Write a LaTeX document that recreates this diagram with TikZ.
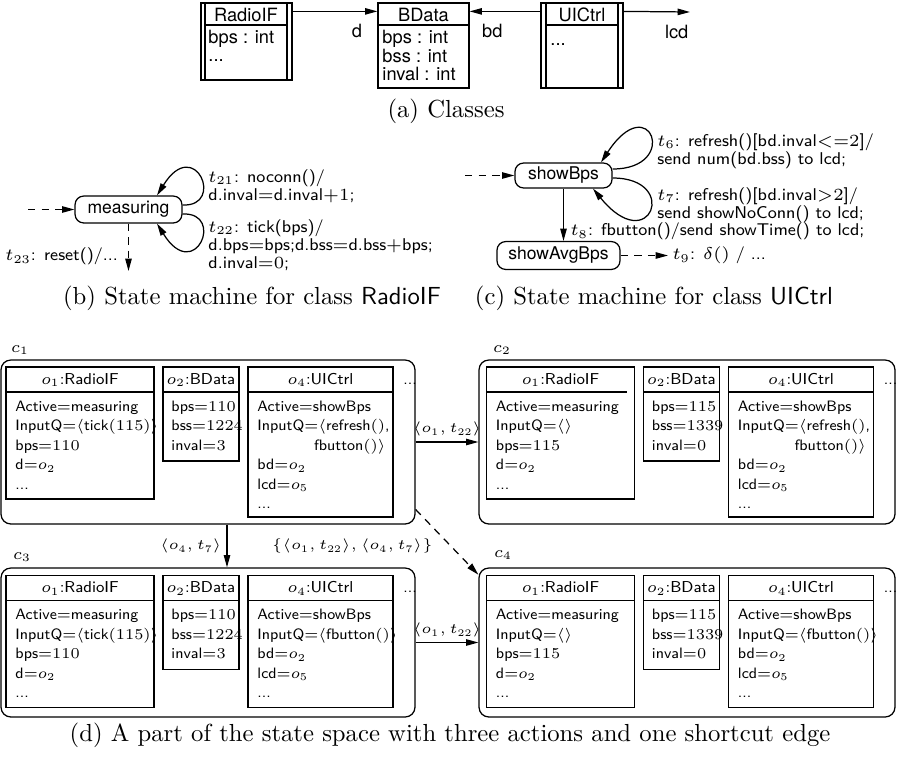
\RequirePackage{fix-cm}
\documentclass[tikz,border=0pt]{standalone}
\usepackage{fontspec}
\newfontfamily\helv{TeX Gyre Heros}
\usetikzlibrary{arrows.meta,fit,calc}

% object boxes inside a configuration (local coordinates, shifted per configuration)
\newcommand\oRadio[4]{% name, queue contents, bps value, end of title rule
  \node[box, fit={(6,367)(154,499)}] (#1) {};
  \draw[thinline] (6,392) -- (#4,392);
  \node[otitle] at (80,384) {$o_1$:RadioIF};
  \node[otxt] at (15,411) {Active$=$measuring};
  \node[otxt] at (15,430.5) {InputQ$=${$\langle${#2}$\rangle$}};
  \node[otxt] at (15,450) {bps$=${$#3$}};
  \node[otxt] at (15,469.5) {d$=${$o_2$}};
  \node[otxt] at (15,489) {...};}
\newcommand\oBData[4]{% name, bps, bss, inval
  \node[box, fit={(163,367)(239,461)}] (#1) {};
  \draw[thinline] (163,392) -- (239,392);
  \node[otitle] at (201,384) {$o_2$:BData};
  \node[otxt] at (171,411) {bps$=${$#2$}};
  \node[otxt] at (171,430.5) {bss$=${$#3$}};
  \node[otxt] at (171,450) {inval$=${$#4$}};}
\newcommand\oUILong[1]{%
  \node[box, fit={(248,367)(393,517)}] (#1) {};
  \draw[thinline] (248,392) -- (393,392);
  \node[otitle] at (320.5,384) {$o_4$:UICtrl};
  \node[otxt] at (257,411) {Active$=$showBps};
  \node[otxt] at (257,430.5) {InputQ$=${$\langle$}refresh$()$,};
  \node[otxt, anchor=base east] at (386,450) {fbutton$()\rangle$};
  \node[otxt] at (257,469.5) {bd$=${$o_2$}};
  \node[otxt] at (257,489) {lcd$=${$o_5$}};
  \node[otxt] at (257,508.5) {...};
  \node[otxt] at (403,384) {...};}
\newcommand\oUIShort[1]{%
  \node[box, fit={(248,367)(393,499)}] (#1) {};
  \draw[thinline] (248,392) -- (393,392);
  \node[otitle] at (320.5,384) {$o_4$:UICtrl};
  \node[otxt] at (257,411) {Active$=$showBps};
  \node[otxt] at (257,430.5) {InputQ$=${$\langle$}fbutton$()\rangle$};
  \node[otxt] at (257,450) {bd$=${$o_2$}};
  \node[otxt] at (257,469.5) {lcd$=${$o_5$}};
  \node[otxt] at (257,489) {...};
  \node[otxt] at (403,384) {...};}

\begin{document}
\begin{tikzpicture}[x=0.405pt, y=-0.405pt,
  thinline/.style={line width=0.5pt},
  box/.style={draw, line width=0.5pt, inner sep=0pt},
  cfg/.style={draw, line width=0.5pt, rounded corners=4pt, inner sep=0pt},
  state/.style={draw, line width=0.5pt, rounded corners=3.5pt, inner sep=0pt,
    font=\helv\fontsize{7.1}{8.5}\selectfont},
  clstxt/.style={font=\helv\fontsize{7.4}{8.8}\selectfont, inner sep=0pt},
  trtxt/.style={font=\sffamily\fontsize{6.9}{7}\selectfont, inner sep=0pt, anchor=base west},
  otxt/.style={font=\sffamily\fontsize{6.1}{7.3}\selectfont, inner sep=0pt, anchor=base west},
  otitle/.style={font=\sffamily\fontsize{6.4}{7.6}\selectfont, inner sep=0pt, anchor=base},
  elab/.style={font=\fontsize{5.8}{6.8}\selectfont, inner sep=1pt},
  clab/.style={font=\fontsize{6.5}{8}\selectfont, inner sep=0pt},
  captxt/.style={font=\fontsize{10}{12}\selectfont, inner sep=0pt, anchor=base},
  arr/.style={-{Triangle[length=5pt,width=2.6pt]}, line width=0.5pt},
  darr/.style={arr, dash pattern=on 3pt off 2.5pt}]
\useasboundingbox (0,0) rectangle (900,757);

% ---------- (a) classes ----------
\node[box, fit={(201,3)(292,80)}] (RadioIF) {};
\draw[thinline] (205,3) -- (205,80) (287,3) -- (287,80) (205,25) -- (287,25);
\node[clstxt, anchor=base] at (246,21) {RadioIF};
\node[clstxt, anchor=base west] at (208,43.5) {bps : int};
\node[clstxt, anchor=base west] at (208,61) {...};

\node[box, fit={(378,3)(469,88)}] (BData) {};
\draw[thinline] (378,25) -- (469,25);
\node[clstxt, anchor=base] at (423.5,21) {BData};
\node[clstxt, anchor=base west] at (382,43.5) {bps : int};
\node[clstxt, anchor=base west] at (382,62) {bss : int};
\node[clstxt, anchor=base west] at (382,80) {inval : int};

\node[box, fit={(541,3)(623,88)}] (UICtrl) {};
\draw[thinline] (546,3) -- (546,88) (618,3) -- (618,88) (546,25) -- (618,25);
\node[clstxt, anchor=base] at (582,21) {UICtrl};
\node[clstxt, anchor=base west] at (550,45) {...};

\coordinate (lcdend) at (690,12);
\draw[arr] ($(RadioIF.north east)+(0,9)$) -- ($(BData.north west)+(0,9)$)
  node[clstxt, pos=0.76, anchor=north, yshift=-5pt] {d};
\draw[arr] ($(UICtrl.north west)+(0,9)$) -- ($(BData.north east)+(0,9)$)
  node[clstxt, pos=0.68, anchor=north, yshift=-5pt] {bd};
\draw[arr] ($(UICtrl.north east)+(0,9)$) -- (lcdend)
  node[clstxt, pos=0.8, anchor=north, yshift=-5pt] {lcd};

\node[captxt] (capa) at (446,117) {(a) Classes};

% ---------- (b) state machine of RadioIF ----------
\node[state, minimum width=43.3pt, minimum height=10.9pt] (measuring) at (128.5,209.5) {measuring};
\coordinate (minit) at (28,209.5);
\coordinate (mreset) at (128.5,271);
\draw[darr] (minit) -- (measuring.west);
\draw[arr] ($(measuring.east)+(0,-4.5)$) .. controls +(43,2) and +(38,-61) .. ($(measuring.north)+(28.5,0)$);
\draw[arr] ($(measuring.east)+(0,4.5)$) .. controls +(43,-2) and +(38,61) .. ($(measuring.south)+(28.5,0)$);
\draw[darr] (measuring.south) -- (mreset)
  node[trtxt, pos=0.78, anchor=base east, xshift=-4pt] {$t_{23}$: reset()/...};
\node[trtxt] (t21a) at (208,182) {$t_{21}$: noconn()/};
\node[trtxt] (t21b) at (208,200) {d.inval$=$d.inval$+1$;};
\node[trtxt] (t22a) at (208,232) {$t_{22}$: tick(bps)/};
\node[trtxt] (t22b) at (208,250) {d.bps$=$bps;d.bss$=$d.bss$+$bps;};
\node[trtxt] (t22c) at (208,268) {d.inval$=${$0$};};

\node[captxt] (capb) at (252,304) {(b) State machine for class \textsf{RadioIF}};

% ---------- (c) state machine of UICtrl ----------
\node[state, minimum width=39.3pt, minimum height=10.1pt] (showBps) at (563.5,175.5) {showBps};
\node[state, minimum width=49.8pt, minimum height=11.3pt] (showAvgBps) at (558.5,255.5) {showAvgBps};
\coordinate (sinit) at (465,175.5);
\coordinate (t9end) at (668,255.5);
\draw[darr] (sinit) -- (showBps.west);
\draw[arr] ($(showBps.east)+(0,-6.5)$) .. controls +(68,0) and +(49,-75) .. ($(showBps.north)+(37.5,0)$);
\draw[arr] ($(showBps.east)+(0,2.5)$) .. controls +(68,0) and +(57,70) .. ($(showBps.south)+(29.5,0)$);
\node[trtxt] (t6a) at (657,146) {$t_6$: refresh()[bd.inval$<=${$2$}]/};
\node[trtxt] (t6b) at (657,164) {send num(bd.bss) to lcd;};
\node[trtxt] (t7a) at (657,200) {$t_7$: refresh()[bd.inval$>${$2$}]/};
\node[trtxt] (t7b) at (657,218) {send showNoConn() to lcd;};
\draw[arr] (showBps.south) -- (showBps.south |- showAvgBps.north)
  node[trtxt, pos=0.9, xshift=2.6pt] {$t_8$: fbutton()/send showTime() to lcd;};
\draw[darr] (showAvgBps.east) -- (t9end)
  node[trtxt, anchor=west, xshift=1.6pt] {$t_9$: $\delta()$ / ...};

\node[captxt] (capc) at (654,304) {(c) State machine for class \textsf{UICtrl}};

% ---------- (d) part of the state space ----------
\node[cfg, fit={(1,360)(415,524)}] (c1) {};
\node[cfg, fit={(479,360)(895,524)}] (c2) {};
\node[cfg, fit={(1,568)(415,717)}] (c3) {};
\node[cfg, fit={(479,568)(895,717)}] (c4) {};
\node[clab] at (20,350) {$c_1$};
\node[clab] at (502,350) {$c_2$};
\node[clab] at (22,557) {$c_3$};
\node[clab] at (503,555) {$c_4$};

\begin{scope}
  \oRadio{c1o1}{tick$(115)$}{110}{154}
  \oBData{c1o2}{110}{1224}{3}
  \oUILong{c1o4}
\end{scope}
\begin{scope}[shift={(480.5,0)}]
  \oRadio{c2o1}{}{115}{146.5}
  \oBData{c2o2}{115}{1339}{0}
  \oUILong{c2o4}
\end{scope}
\begin{scope}[shift={(0,208.5)}]
  \oRadio{c3o1}{tick$(115)$}{110}{154}
  \oBData{c3o2}{110}{1224}{3}
  \oUIShort{c3o4}
\end{scope}
\begin{scope}[shift={(480.5,208.5)}]
  \oRadio{c4o1}{}{115}{154}
  \oBData{c4o2}{115}{1339}{0}
  \oUIShort{c4o4}
\end{scope}

\draw[arr] (c1.east) -- (c2.west)
  node[elab, midway, above=1pt] {$\langle o_1,t_{22}\rangle$};
\draw[arr] ($(c1.south)+(19,0)$) -- ($(c3.north)+(19,0)$)
  node[elab, midway, left=1pt] {$\langle o_4,t_7\rangle$};
\draw[darr] (c1.-18) -- (c4.162.5)
  node[elab, midway, anchor=east, xshift=-4.5pt, yshift=-1.5pt] {$\{\langle o_1,t_{22}\rangle,\langle o_4,t_7\rangle\}$};
\draw[arr] (c3.east) -- (c4.west)
  node[elab, midway, above=1pt] {$\langle o_1,t_{22}\rangle$};

\node[captxt] (capd) at (450,741) {(d) A part of the state space with three actions and one shortcut edge};
\end{tikzpicture}
\end{document}
